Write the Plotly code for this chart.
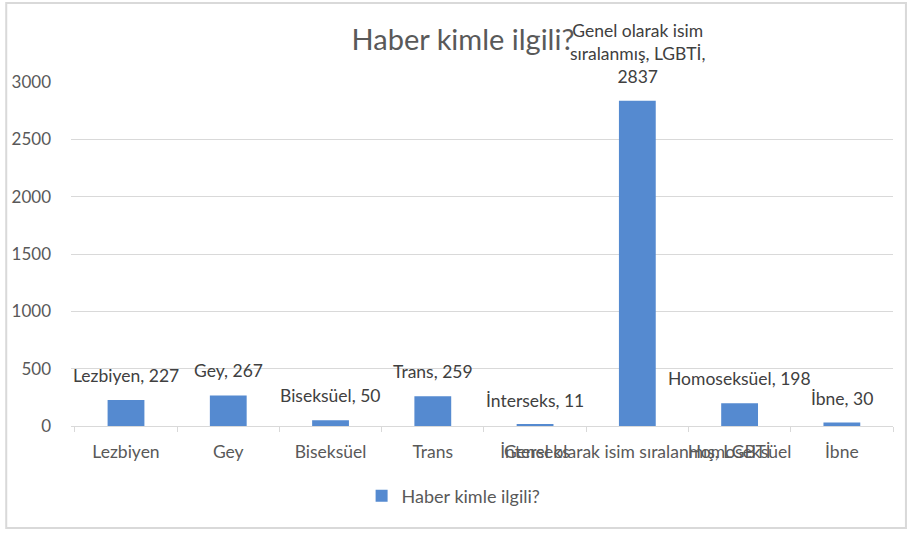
import plotly.graph_objects as go

categories = ["Lezbiyen", "Gey", "Biseksüel", "Trans", "İnterseks",
              "Genel olarak isim sıralanmış, LGBTİ", "Homoseksüel", "İbne"]
values = [227, 267, 50, 259, 11, 2837, 198, 30]
label_texts = ["Lezbiyen, 227", "Gey, 267", "Biseksüel, 50", "Trans, 259",
               "İnterseks, 11", "Genel olarak isim<br>sıralanmış, LGBTİ,<br>2837",
               "Homoseksüel, 198", "İbne, 30"]
series_name = "Haber kimle ilgili?"
y_ticks = [0, 500, 1000, 1500, 2000, 2500, 3000]

FONT = "Lato"
AXIS_COL = "#595959"
GRID_COL = "#d9d9d9"

fig = go.Figure()
fig.add_trace(go.Bar(
    x=categories, y=values, name=series_name,
    marker=dict(color="#558ad0", line=dict(width=0)),
    hoverinfo="skip", showlegend=True,
))

annotations = []
for c, v, t in zip(categories, values, label_texts):
    annotations.append(dict(
        x=c, y=v, xref="x", yref="y", text=t, showarrow=False,
        yanchor="bottom", yshift=12, align="center",
        font=dict(family=FONT, size=17.5, color="#404040"),
    ))

L, R, T, B = 68, 16, 82, 109
W, H = 909, 535
pw, ph = W - L - R, H - T - B

fig.update_layout(
    width=W, height=H,
    margin=dict(l=L, r=R, t=T, b=B),
    paper_bgcolor="white", plot_bgcolor="white",
    bargap=0.64,
    title=dict(text="Haber kimle ilgili?", x=463 / W, xanchor="center",
               y=1 - 40 / H, yanchor="middle", yref="container", xref="container",
               font=dict(family=FONT, size=29, color=AXIS_COL)),
    font=dict(family=FONT, color=AXIS_COL),
    legend=dict(orientation="h", x=(452 - L) / pw, xanchor="center",
                y=(H - B - 496) / ph, yanchor="middle",
                font=dict(family=FONT, size=18, color=AXIS_COL),
                bgcolor="rgba(0,0,0,0)"),
    annotations=annotations,
    shapes=[dict(type="rect", xref="paper", yref="paper",
                 x0=(3 - L) / pw, x1=(906 - L) / pw,
                 y0=(H - B - 528) / ph, y1=(H - B - 3) / ph,
                 line=dict(color=GRID_COL, width=2), fillcolor="rgba(0,0,0,0)",
                 layer="below")],
    xaxis=dict(type="category", tickangle=0, showline=True, linecolor=GRID_COL,
               linewidth=1, ticks="outside", tickson="boundaries", ticklen=5,
               tickcolor=GRID_COL, showgrid=False,
               tickfont=dict(family=FONT, size=17.5, color=AXIS_COL),
               ticklabelstandoff=10, fixedrange=True),
    yaxis=dict(range=[0, 3000], tickvals=y_ticks, showgrid=True,
               gridcolor=GRID_COL, gridwidth=1, zeroline=False, showline=False,
               ticks="", tickfont=dict(family=FONT, size=17, color=AXIS_COL),
               ticklabelstandoff=19, fixedrange=True),
)

fig.write_html("out.html", config={"displayModeBar": False},
               post_script="document.body.style.margin='0';")
